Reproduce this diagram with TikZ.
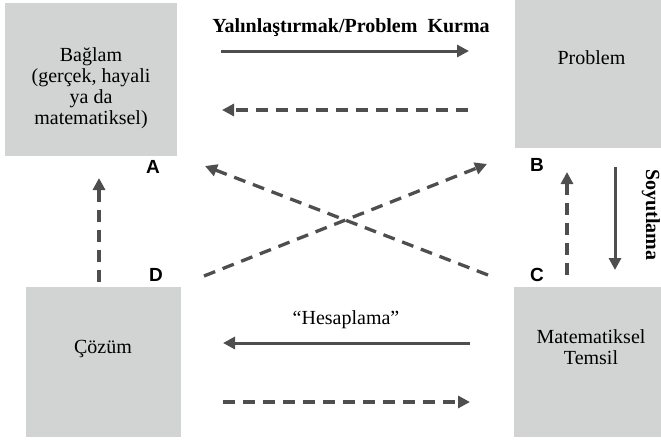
\documentclass[tikz,border=0pt]{standalone}
\usepackage{fontspec}
\setmainfont{Liberation Serif}
\newfontfamily\letterfont{Liberation Sans}
\usetikzlibrary{arrows.meta}
\definecolor{boxgray}{RGB}{210,211,211}
\definecolor{linegray}{RGB}{78,78,78}

\begin{document}
\begin{tikzpicture}[x=1pt,y=-1pt,
  box/.style={fill=boxgray,draw=none,inner sep=0pt,anchor=north west},
  boxtext/.style={inner sep=0pt,align=center,font=\fontsize{20}{21}\selectfont},
  steplabel/.style={inner sep=0pt,font=\fontsize{20}{21}\selectfont},
  cornerlabel/.style={inner sep=0pt,font=\letterfont\bfseries\fontsize{19}{19}\selectfont},
  flow/.style={draw=linegray,line width=3pt,-{Triangle[length=12pt,width=12pt]}},
  backflow/.style={flow,line width=3.3pt,dash pattern=on 12pt off 8pt}]

  \useasboundingbox (0,0) rectangle (661,440);

  % the four stages
  \node[box,minimum width=172pt,minimum height=153pt] (ctx) at (5,3) {};
  \node[box,minimum width=146pt,minimum height=148pt] (prob) at (515,0) {};
  \node[box,minimum width=155pt,minimum height=150pt] (sol) at (26,287) {};
  \node[box,minimum width=147pt,minimum height=150pt] (rep) at (514,287) {};

  \node[boxtext] (ctxtext) at (91,88.5) {Bağlam\\(gerçek, hayali\\ya da\\matematiksel)};
  \node[boxtext,anchor=base] (probtext) at (591.5,64) {Problem};
  \node[boxtext,anchor=base] (soltext) at (103,353) {Çözüm};
  \node[boxtext] (reptext) at (591,347) {Matematiksel\\Temsil};

  % corner letters
  \node[cornerlabel] (la) at (153,166.5) {A};
  \node[cornerlabel] (lb) at (537,165) {B};
  \node[cornerlabel] (lc) at (537,275) {C};
  \node[cornerlabel] (ld) at (156,275) {D};

  % arrow end points
  \coordinate (t1) at (221,51);   \coordinate (t2) at (469,51);
  \coordinate (u1) at (468,110);  \coordinate (u2) at (222,110);
  \coordinate (r1) at (615,167);  \coordinate (r2) at (615,270);
  \coordinate (s1) at (567,275);  \coordinate (s2) at (567,172);
  \coordinate (b1) at (470,343);  \coordinate (b2) at (223,343);
  \coordinate (c1) at (223,402);  \coordinate (c2) at (470,402);
  \coordinate (l1) at (99,282);   \coordinate (l2) at (99,178);
  \coordinate (d1) at (204,276);  \coordinate (d2) at (487,164);
  \coordinate (e1) at (488,275);  \coordinate (e2) at (205,166);

  % modelling cycle
  \draw[flow] (t1) -- (t2);
  \draw[backflow] (u1) -- (u2);
  \draw[flow] (r1) -- (r2);
  \draw[backflow] (s1) -- (s2);
  \draw[flow] (b1) -- (b2);
  \draw[backflow] (c1) -- (c2);
  \draw[backflow] (l1) -- (l2);
  \draw[backflow] (d1) -- (d2);
  \draw[backflow] (e1) -- (e2);

  % step names
  \node[steplabel,font=\bfseries\fontsize{20}{21}\selectfont,anchor=base] (simplify) at (351,32) {Yalınlaştırmak/Problem\ \ Kurma};
  \node[steplabel,font=\bfseries\fontsize{20}{21}\selectfont,anchor=base,rotate=-90] (abstract) at (646,215) {Soyutlama};
  \node[steplabel,anchor=base] (compute) at (346,324) {“Hesaplama”};
\end{tikzpicture}
\end{document}
